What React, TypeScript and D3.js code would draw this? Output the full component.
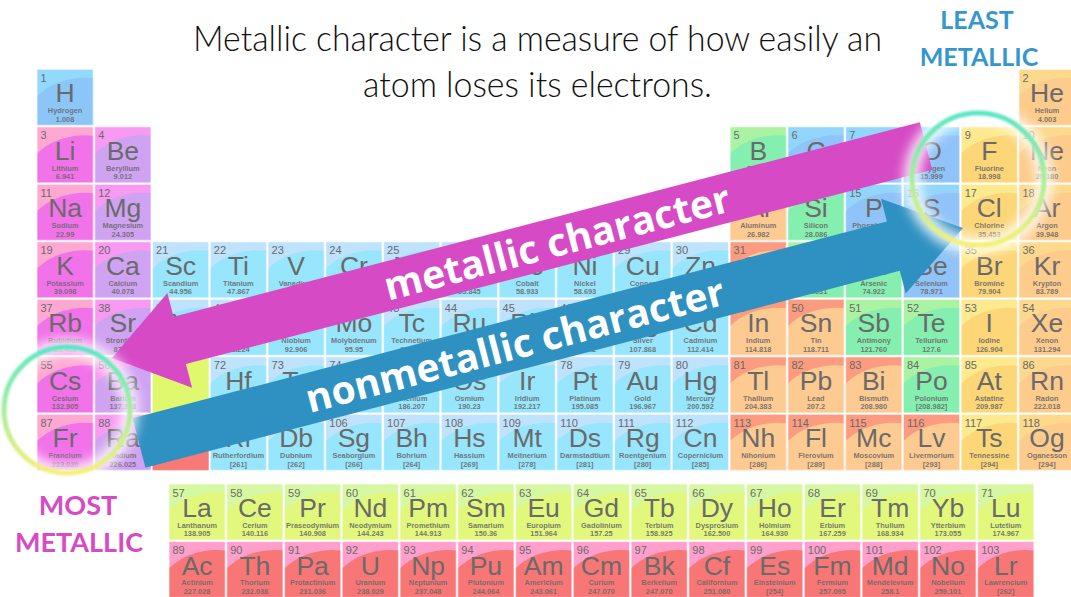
import * as d3 from "d3";

// element data, indexed by atomic number - 1
const symbols = [
  "H", "He", "Li", "Be", "B", "C", "N", "O", "F", "Ne",
  "Na", "Mg", "Al", "Si", "P", "S", "Cl", "Ar", "K", "Ca",
  "Sc", "Ti", "V", "Cr", "Mn", "Fe", "Co", "Ni", "Cu", "Zn",
  "Ga", "Ge", "As", "Se", "Br", "Kr", "Rb", "Sr", "Y", "Zr",
  "Nb", "Mo", "Tc", "Ru", "Rh", "Pd", "Ag", "Cd", "In", "Sn",
  "Sb", "Te", "I", "Xe", "Cs", "Ba", "La", "Ce", "Pr", "Nd",
  "Pm", "Sm", "Eu", "Gd", "Tb", "Dy", "Ho", "Er", "Tm", "Yb",
  "Lu", "Hf", "Ta", "W", "Re", "Os", "Ir", "Pt", "Au", "Hg",
  "Tl", "Pb", "Bi", "Po", "At", "Rn", "Fr", "Ra", "Ac", "Th",
  "Pa", "U", "Np", "Pu", "Am", "Cm", "Bk", "Cf", "Es", "Fm",
  "Md", "No", "Lr", "Rf", "Db", "Sg", "Bh", "Hs", "Mt", "Ds",
  "Rg", "Cn", "Nh", "Fl", "Mc", "Lv", "Ts", "Og",
];

const names = [
  "Hydrogen", "Helium", "Lithium", "Beryllium", "Boron", "Carbon", "Nitrogen", "Oxygen", "Fluorine", "Neon",
  "Sodium", "Magnesium", "Aluminum", "Silicon", "Phosphorus", "Sulfur", "Chlorine", "Argon", "Potassium", "Calcium",
  "Scandium", "Titanium", "Vanadium", "Chromium", "Manganese", "Iron", "Cobalt", "Nickel", "Copper", "Zinc",
  "Gallium", "Germanium", "Arsenic", "Selenium", "Bromine", "Krypton", "Rubidium", "Strontium", "Yttrium", "Zirconium",
  "Niobium", "Molybdenum", "Technetium", "Ruthenium", "Rhodium", "Palladium", "Silver", "Cadmium", "Indium", "Tin",
  "Antimony", "Tellurium", "Iodine", "Xenon", "Cesium", "Barium", "Lanthanum", "Cerium", "Praseodymium", "Neodymium",
  "Promethium", "Samarium", "Europium", "Gadolinium", "Terbium", "Dysprosium", "Holmium", "Erbium", "Thulium", "Ytterbium",
  "Lutetium", "Hafnium", "Tantalum", "Tungsten", "Rhenium", "Osmium", "Iridium", "Platinum", "Gold", "Mercury",
  "Thallium", "Lead", "Bismuth", "Polonium", "Astatine", "Radon", "Francium", "Radium", "Actinium", "Thorium",
  "Protactinium", "Uranium", "Neptunium", "Plutonium", "Americium", "Curium", "Berkelium", "Californium", "Einsteinium", "Fermium",
  "Mendelevium", "Nobelium", "Lawrencium", "Rutherfordium", "Dubnium", "Seaborgium", "Bohrium", "Hassium", "Meitnerium", "Darmstadtium",
  "Roentgenium", "Copernicium", "Nihonium", "Flerovium", "Moscovium", "Livermorium", "Tennessine", "Oganesson",
];

const masses = [
  "1.008", "4.003", "6.941", "9.012", "10.811", "12.011", "14.007", "15.999", "18.998", "20.180",
  "22.99", "24.305", "26.982", "28.086", "30.974", "32.066", "35.453", "39.948", "39.098", "40.078",
  "44.956", "47.867", "50.942", "51.996", "54.938", "55.845", "58.933", "58.693", "63.546", "65.38",
  "69.723", "72.631", "74.922", "78.971", "79.904", "83.789", "85.468", "87.62", "88.906", "91.224",
  "92.906", "95.95", "98.907", "101.07", "102.906", "106.42", "107.868", "112.414", "114.818", "118.711",
  "121.760", "127.6", "126.904", "131.294", "132.905", "137.328", "138.905", "140.116", "140.908", "144.243",
  "144.913", "150.36", "151.964", "157.25", "158.925", "162.500", "164.930", "167.259", "168.934", "173.055",
  "174.967", "178.49", "180.948", "183.84", "186.207", "190.23", "192.217", "195.085", "196.967", "200.592",
  "204.383", "207.2", "208.980", "[208.982]", "209.987", "222.018", "223.020", "226.025", "227.028", "232.038",
  "231.036", "238.029", "237.048", "244.064", "243.061", "247.070", "247.070", "251.080", "[254]", "257.095",
  "258.1", "259.101", "[262]", "[261]", "[262]", "[266]", "[264]", "[269]", "[278]", "[281]",
  "[280]", "[285]", "[286]", "[289]", "[288]", "[293]", "[294]", "[294]",
];

const hydrogen = [1];
const alkali = [3, 11, 19, 37, 55, 87];
const alkaline = [4, 12, 20, 38, 56, 88];
const nonmetals = [6, 7, 8, 15, 16, 34];
const halogens = [9, 17, 35, 53, 85, 117];
const nobles = [2, 10, 18, 36, 54, 86, 118];
const metalloids = [5, 14, 32, 33, 51, 52, 84];
const postTransition = [13, 31, 49, 50, 81, 82, 83, 113, 114, 115, 116];

// [top colour, blob colour]
const palette: Record<string, [string, string]> = {
  hydrogen: ["#93d9fc", "#8cc6f8"],
  alkali: ["#ffa9d2", "#f272ea"],
  alkaline: ["#f99af2", "#d0a2f2"],
  transition: ["#bfe2fd", "#97e6fd"],
  nonmetal: ["#93d6fc", "#90c3f8"],
  halogen: ["#fde98e", "#fdd678"],
  noble: ["#fdd98e", "#fdcb8c"],
  metalloid: ["#a9f3a2", "#84efae"],
  post: ["#fb9c80", "#fdca92"],
  lanthanide: ["#d6f8a3", "#e2f87c"],
  actinide: ["#ffa0cc", "#f97676"],
};

function categoryOf(z: number) {
  if (hydrogen.includes(z)) return "hydrogen";
  if (alkali.includes(z)) return "alkali";
  if (alkaline.includes(z)) return "alkaline";
  if (nonmetals.includes(z)) return "nonmetal";
  if (halogens.includes(z)) return "halogen";
  if (nobles.includes(z)) return "noble";
  if (metalloids.includes(z)) return "metalloid";
  if (postTransition.includes(z)) return "post";
  if (z >= 57 && z <= 71) return "lanthanide";
  if (z >= 89 && z <= 103) return "actinide";
  return "transition";
}

// group/period (f-block returns fRow 1 or 2 with index)
function placeOf(z: number): { g: number; p: number; f?: number; fi?: number } {
  if (z === 1) return { g: 1, p: 1 };
  if (z === 2) return { g: 18, p: 1 };
  if (z <= 18) {
    const p = z <= 10 ? 2 : 3;
    const k = z - (p === 2 ? 2 : 10);
    return { g: k <= 2 ? k : k + 10, p };
  }
  if (z <= 36) return { g: z - 18, p: 4 };
  if (z <= 54) return { g: z - 36, p: 5 };
  if (z <= 56) return { g: z - 54, p: 6 };
  if (z <= 71) return { g: 0, p: 0, f: 1, fi: z - 57 };
  if (z <= 86) return { g: z - 68, p: 6 };
  if (z <= 88) return { g: z - 86, p: 7 };
  if (z <= 103) return { g: 0, p: 0, f: 2, fi: z - 89 };
  return { g: z - 100, p: 7 };
}

const W = 1071;
const H = 597;
const cellW = 56.2;
const cellH = 56;

const x = d3.scaleLinear().domain([1, 19]).range([37, 37 + 18 * 57.76]);
const y = d3.scaleLinear().domain([1, 8]).range([69.3, 69.3 + 7 * 57.5]);
const fx = d3.scaleLinear().domain([0, 15]).range([169, 169 + 15 * 57.76]);
const fy = d3.scaleLinear().domain([1, 3]).range([484, 484 + 2 * 57.5]);

function Cell({ z }: { z: number }) {
  const pl = placeOf(z);
  const cx = pl.f ? fx(pl.fi!) : x(pl.g);
  const cy = pl.f ? fy(pl.f) : y(pl.p);
  const [top, blob] = palette[categoryOf(z)];
  const id = `clip-${z}`;
  const grey = "#6a6a6a";
  const ff = "Liberation Sans, Arial, sans-serif";
  return (
    <g>
      <clipPath id={id}>
        <rect x={cx} y={cy} width={cellW} height={cellH} />
      </clipPath>
      <rect x={cx} y={cy} width={cellW} height={cellH} fill={top} />
      <ellipse
        clipPath={`url(#${id})`}
        cx={cx + 0.85 * cellW}
        cy={cy + 1.05 * cellH}
        rx={1.1 * cellW}
        ry={0.9 * cellH}
        fill={blob}
      />
      <rect x={cx} y={cy} width={cellW} height={cellH} fill="none" stroke="#ffffff" strokeOpacity={0.55} strokeWidth={1.2} />
      <text x={cx + 3.5} y={cy + 12.5} fontSize={11} fill={grey} fontFamily={ff}>
        {z}
      </text>
      <text x={cx + cellW / 2} y={cy + 33} fontSize={26.5} textAnchor="middle" fill={grey} fontFamily={ff}>
        {symbols[z - 1]}
      </text>
      <text
        x={cx + cellW / 2}
        y={cy + 43.8}
        fontSize={7.4}
        fontWeight="bold"
        textAnchor="middle"
        fill={grey}
        fillOpacity={0.9}
        fontFamily={ff}
      >
        {names[z - 1]}
      </text>
      <text
        x={cx + cellW / 2}
        y={cy + 52.3}
        fontSize={7.4}
        fontWeight="bold"
        textAnchor="middle"
        fill={grey}
        fillOpacity={0.9}
        fontFamily={ff}
      >
        {masses[z - 1]}
      </text>
    </g>
  );
}

type Pt = [number, number];

function arrowPath(tail: Pt, tip: Pt, shaftW: number, headW: number, headL: number) {
  const dx = tip[0] - tail[0];
  const dy = tip[1] - tail[1];
  const L = Math.hypot(dx, dy);
  const ux = dx / L;
  const uy = dy / L;
  const px = -uy;
  const py = ux;
  const pt = (a: number, b: number): Pt => [tail[0] + ux * a + px * b, tail[1] + uy * a + py * b];
  const pts = [
    pt(0, -shaftW / 2),
    pt(L - headL, -shaftW / 2),
    pt(L - headL, -headW / 2),
    pt(L, 0),
    pt(L - headL, headW / 2),
    pt(L - headL, shaftW / 2),
    pt(0, shaftW / 2),
  ];
  return d3.line()(pts) + "Z";
}

function pointOnLine(a: Pt, b: Pt, atX: number): Pt {
  const t = (atX - a[0]) / (b[0] - a[0]);
  return [atX, a[1] + t * (b[1] - a[1])];
}

const magentaTail: Pt = [926, 146];
const magentaTip: Pt = [112, 358];
const blueTail: Pt = [139, 443];
const blueTip: Pt = [963, 228];
const MAGENTA = "#d64bc5";
const BLUE = "#2f91c1";

function Ring({ cx, cy, r }: { cx: number; cy: number; r: number }) {
  return (
    <g>
      <circle cx={cx} cy={cy} r={r} fill="none" stroke="#ffffff" strokeWidth={16} opacity={0.85} filter="url(#glow)" />
      <circle cx={cx} cy={cy} r={r} fill="none" stroke="url(#ringGrad)" strokeWidth={5} filter="url(#soft)" />
    </g>
  );
}

export default function App() {
  const allZ = d3.range(1, 119);
  const angle = (Math.atan2(blueTip[1] - blueTail[1], blueTip[0] - blueTail[0]) * 180) / Math.PI;
  const mText = pointOnLine(magentaTail, magentaTip, 557);
  const bText = pointOnLine(blueTail, blueTip, 515);
  const font = "Lato, 'Open Sans', sans-serif";

  return (
    <svg width={W} height={H} style={{ position: "absolute", left: 0, top: 0, background: "#fff" }}>
      <defs>
        <linearGradient id="ringGrad" x1="0" y1="0" x2="0" y2="1">
          <stop offset="0%" stopColor="#5ae6c6" />
          <stop offset="50%" stopColor="#a6ee9c" />
          <stop offset="100%" stopColor="#f6f078" />
        </linearGradient>
        <filter id="glow" x="-30%" y="-30%" width="160%" height="160%">
          <feGaussianBlur stdDeviation="6" />
        </filter>
        <filter id="soft" x="-10%" y="-10%" width="120%" height="120%">
          <feGaussianBlur stdDeviation="0.8" />
        </filter>
      </defs>

      {allZ.map((z) => (
        <Cell key={z} z={z} />
      ))}
      {/* lanthanide / actinide placeholders */}
      <rect x={x(3)} y={y(6)} width={cellW} height={cellH} fill="#e0f86e" />
      <rect x={x(3)} y={y(7)} width={cellW} height={cellH} fill="#f87a78" />

      <text x={537.5} y={51} fontSize={35} fontWeight={300} textAnchor="middle" fontFamily={font} fill="#111" textLength={689} lengthAdjust="spacingAndGlyphs">
        Metallic character is a measure of how easily an
      </text>
      <text x={537.5} y={97} fontSize={35} fontWeight={300} textAnchor="middle" fontFamily={font} fill="#111" textLength={349} lengthAdjust="spacingAndGlyphs">
        atom loses its electrons.
      </text>

      <text x={977} y={29} fontSize={25} fontWeight="bold" textAnchor="middle" fontFamily={font} fill="#3597cb">
        LEAST
      </text>
      <text x={979} y={66} fontSize={25} fontWeight="bold" textAnchor="middle" fontFamily={font} fill="#3597cb">
        METALLIC
      </text>
      <text x={78} y={515} fontSize={27} fontWeight="bold" textAnchor="middle" fontFamily={font} fill={MAGENTA}>
        MOST
      </text>
      <text x={79} y={552} fontSize={27} fontWeight="bold" textAnchor="middle" fontFamily={font} fill={MAGENTA}>
        METALLIC
      </text>

      <path d={arrowPath(magentaTail, magentaTip, 49, 98, 70)} fill={MAGENTA} />
      <path d={arrowPath(blueTail, blueTip, 51, 98, 72)} fill={BLUE} />

      <text
        transform={`translate(${mText[0]},${mText[1]}) rotate(${angle})`}
        dy="0.36em"
        fontSize={39}
        fontWeight="bold"
        textAnchor="middle"
        fill="#fff"
        fontFamily="'Open Sans', sans-serif"
      >
        metallic character
      </text>
      <text
        transform={`translate(${bText[0]},${bText[1]}) rotate(${angle})`}
        dy="0.36em"
        fontSize={39}
        fontWeight="bold"
        textAnchor="middle"
        fill="#fff"
        fontFamily="'Open Sans', sans-serif"
      >
        nonmetallic character
      </text>

      <Ring cx={67} cy={410} r={63} />
      <Ring cx={978} cy={179} r={66} />
    </svg>
  );
}
